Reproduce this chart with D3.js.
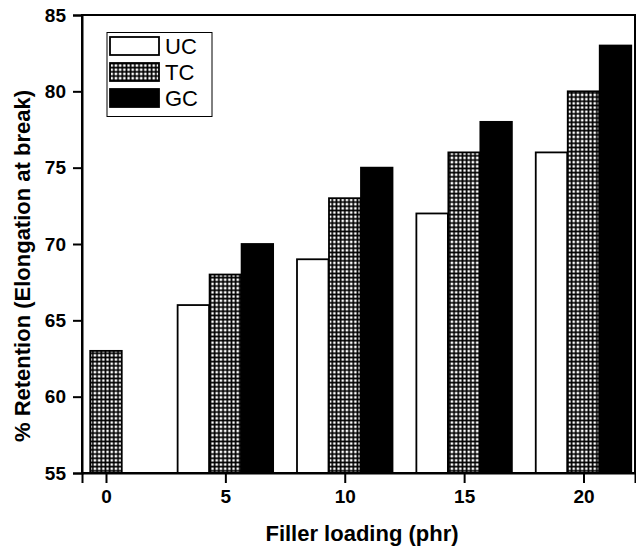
<!DOCTYPE html>
<html>
<head>
<meta charset="utf-8">
<script src="https://cdn.jsdelivr.net/npm/d3@7"></script>
<style>
  html, body { margin: 0; padding: 0; background: #fff; }
  svg { display: block; font-family: "Liberation Sans", Arial, sans-serif; }
</style>
</head>
<body>
<svg id="chart" width="636" height="550"></svg>
<script>
// Filler loading (phr) and % retention of elongation at break for each filler type
const loadings = [0, 5, 10, 15, 20];
const ucValues = [null, 66, 69, 72, 76];
const tcValues = [63, 68, 73, 76, 80];
const gcValues = [null, 70, 75, 78, 83];
const seriesNames = ["UC", "TC", "GC"];
const yTicks = [55, 60, 65, 70, 75, 80, 85];
const xTicks = [0, 5, 10, 15, 20];

const svg = d3.select("#chart");
const plotLeft = 82, plotRight = 635, plotTop = 15, plotBottom = 473;

const x = d3.scaleLinear().domain([-1.005, 22.157]).range([plotLeft, plotRight]);
const y = d3.scaleLinear().domain([55, 85]).range([plotBottom, plotTop]);

// checkered fill for the TC bars
const defs = svg.append("defs");
const pat = defs.append("pattern")
  .attr("id", "grid")
  .attr("patternUnits", "userSpaceOnUse")
  .attr("width", 4.2).attr("height", 4.2);
pat.append("rect").attr("width", 4.2).attr("height", 4.2).attr("fill", "#000");
pat.append("rect").attr("x", 1.3).attr("y", 1.3).attr("width", 2.5).attr("height", 2.5).attr("fill", "#fff");

const styles = {
  UC: { fill: "#fff" },
  TC: { fill: "url(#grid)" },
  GC: { fill: "#000" }
};

const barW = 1.32; // in x units
const offsets = { UC: -1.34, TC: 0, GC: 1.34 };
const values = { UC: ucValues, TC: tcValues, GC: gcValues };

const rows = [];
seriesNames.forEach(s => {
  loadings.forEach((l, i) => {
    const v = values[s][i];
    if (v != null) rows.push({ s, l, v });
  });
});

svg.append("g").selectAll("rect")
  .data(rows)
  .join("rect")
  .attr("x", d => x(d.l + offsets[d.s] - barW / 2))
  .attr("width", d => x(d.l + offsets[d.s] + barW / 2) - x(d.l + offsets[d.s] - barW / 2))
  .attr("y", d => y(d.v))
  .attr("height", d => y(55) - y(d.v))
  .attr("fill", d => styles[d.s].fill)
  .attr("stroke", "#000")
  .attr("stroke-width", 1.8);

// frame
svg.append("rect")
  .attr("x", plotLeft).attr("y", plotTop)
  .attr("width", plotRight - plotLeft).attr("height", plotBottom - plotTop)
  .attr("fill", "none").attr("stroke", "#000").attr("stroke-width", 2);

// axes
const yAxis = d3.axisLeft(y).tickValues(yTicks).tickSize(9).tickPadding(7);
const gy = svg.append("g").attr("transform", `translate(${plotLeft},0)`).call(yAxis);
gy.select(".domain").attr("stroke-width", 2);
gy.selectAll(".tick line").attr("stroke-width", 2);
gy.selectAll("text").attr("font-size", 19).attr("font-weight", "bold").attr("fill", "#000")
  .attr("font-family", "Liberation Sans, Arial, sans-serif");

const xAxis = d3.axisBottom(x).tickValues(xTicks).tickSize(10).tickPadding(7);
const gx = svg.append("g").attr("transform", `translate(0,${plotBottom})`).call(xAxis);
gx.select(".domain").attr("stroke-width", 2);
gx.selectAll(".tick line").attr("stroke-width", 2);
gx.selectAll("text").attr("font-size", 19).attr("font-weight", "bold").attr("fill", "#000")
  .attr("font-family", "Liberation Sans, Arial, sans-serif");

// axis titles
svg.append("text")
  .attr("x", 362).attr("y", 541)
  .attr("text-anchor", "middle")
  .attr("font-size", 22).attr("font-weight", "bold")
  .text("Filler loading (phr)");

svg.append("text")
  .attr("transform", "translate(30,266) rotate(-90)")
  .attr("text-anchor", "middle")
  .attr("font-size", 22).attr("font-weight", "bold")
  .text("% Retention (Elongation at break)");

// legend
const lg = svg.append("g");
lg.append("rect")
  .attr("x", 107).attr("y", 32.5).attr("width", 105).attr("height", 84)
  .attr("fill", "#fff").attr("stroke", "#000").attr("stroke-width", 1);
seriesNames.forEach((s, i) => {
  const yy = 37 + i * 26;
  lg.append("rect")
    .attr("x", 110).attr("y", yy).attr("width", 49).attr("height", 18)
    .attr("fill", styles[s].fill).attr("stroke", "#000").attr("stroke-width", 1.8);
  lg.append("text")
    .attr("x", 165).attr("y", yy + 9).attr("dy", "0.36em")
    .attr("font-size", 22)
    .text(s);
});
</script>
</body>
</html>
